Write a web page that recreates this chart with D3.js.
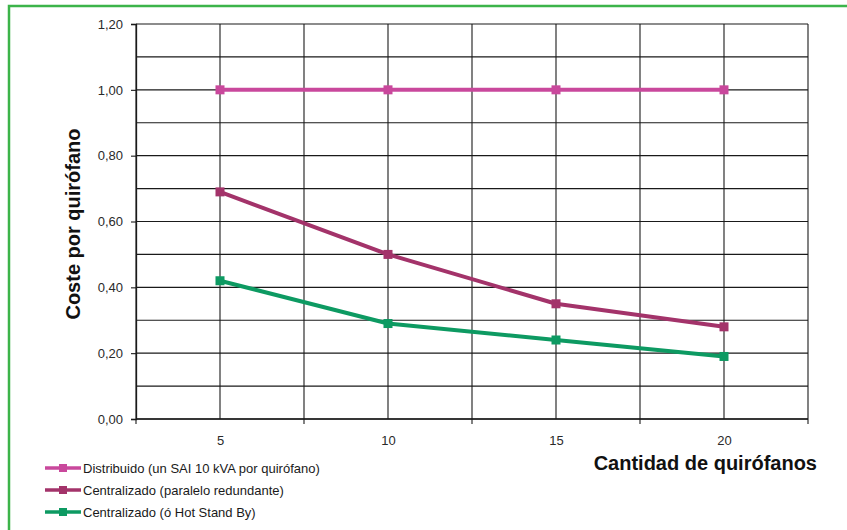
<!DOCTYPE html>
<html>
<head>
<meta charset="utf-8">
<script src="https://cdn.jsdelivr.net/npm/d3@7"></script>
<style>
  html, body { margin: 0; padding: 0; background: #fff; }
  svg { display: block; font-family: "Liberation Sans", Arial, sans-serif; }
</style>
</head>
<body>
<svg id="chart" width="847" height="530"></svg>
<script>
const categories = [5, 10, 15, 20];
const distribuido = [1.00, 1.00, 1.00, 1.00];
const paralelo = [0.69, 0.50, 0.35, 0.28];
const hotStandBy = [0.42, 0.29, 0.24, 0.19];
const yTickValues = [0, 0.2, 0.4, 0.6, 0.8, 1.0, 1.2];
const yMinorValues = [0.1, 0.3, 0.5, 0.7, 0.9, 1.1];
const seriesNames = [
  "Distribuido (un SAI 10 kVA por quirófano)",
  "Centralizado (paralelo redundante)",
  "Centralizado (ó Hot Stand By)"
];
const seriesColors = ["#c9489c", "#a3336a", "#0d9a62"];
const seriesValues = [distribuido, paralelo, hotStandBy];

const svg = d3.select("#chart");
const plot = { left: 136, right: 808, top: 24, bottom: 419 };

// border
svg.append("rect")
  .attr("x", 9).attr("y", 6)
  .attr("width", 860).attr("height", 540)
  .attr("fill", "none").attr("stroke", "#3cb44a").attr("stroke-width", 2.5);

const x = d3.scaleLinear().domain([2.5, 22.5]).range([plot.left, plot.right]);
const y = d3.scaleLinear().domain([0, 1.2]).range([plot.bottom, plot.top]);

const gridColor = "#1a1a1a";

// horizontal grid (major + minor)
const allY = yTickValues.concat(yMinorValues);
svg.append("g").selectAll("line").data(allY).join("line")
  .attr("x1", plot.left).attr("x2", plot.right)
  .attr("y1", d => y(d)).attr("y2", d => y(d))
  .attr("stroke", gridColor).attr("stroke-width", 1.1);

// vertical grid every 2.5
const vLines = d3.range(2.5, 22.51, 2.5);
svg.append("g").selectAll("line").data(vLines).join("line")
  .attr("x1", d => x(d)).attr("x2", d => x(d))
  .attr("y1", plot.top).attr("y2", plot.bottom)
  .attr("stroke", gridColor).attr("stroke-width", 1.1);

// y axis
const yAxis = d3.axisLeft(y).tickValues(yTickValues)
  .tickFormat(d => d3.format(".2f")(d).replace(".", ","))
  .tickSize(5).tickPadding(8);
const gy = svg.append("g").attr("transform", `translate(${plot.left},0)`).call(yAxis);
gy.select(".domain").attr("stroke", gridColor).attr("stroke-width", 1.3);
gy.selectAll(".tick line").attr("stroke", gridColor).attr("stroke-width", 1.1);
gy.selectAll("text").attr("font-size", 13).attr("fill", "#2a2a2a")
  .attr("font-family", "'Liberation Sans', Arial, sans-serif");

// x axis: labels at categories, tick marks between categories
const xAxis = d3.axisBottom(x).tickValues(categories).tickSize(0).tickPadding(17);
const gx = svg.append("g").attr("transform", `translate(0,${plot.bottom})`).call(xAxis);
gx.select(".domain").remove();
gx.selectAll("text").attr("font-size", 13).attr("fill", "#2a2a2a")
  .attr("font-family", "'Liberation Sans', Arial, sans-serif");
svg.append("line")
  .attr("x1", plot.left).attr("x2", plot.right)
  .attr("y1", plot.bottom).attr("y2", plot.bottom)
  .attr("stroke", gridColor).attr("stroke-width", 1.3);
const betweenTicks = [2.5, 7.5, 12.5, 17.5, 22.5];
svg.append("g").selectAll("line").data(betweenTicks).join("line")
  .attr("x1", d => x(d)).attr("x2", d => x(d))
  .attr("y1", plot.bottom).attr("y2", plot.bottom + 5)
  .attr("stroke", gridColor).attr("stroke-width", 1.1);

// series
const line = d3.line().x((d, i) => x(categories[i])).y(d => y(d));
seriesValues.forEach((vals, si) => {
  const g = svg.append("g");
  g.append("path").datum(vals).attr("d", line)
    .attr("fill", "none").attr("stroke", seriesColors[si])
    .attr("stroke-width", 4).attr("stroke-linejoin", "round");
  g.selectAll("rect").data(vals).join("rect")
    .attr("x", (d, i) => x(categories[i]) - 4.5)
    .attr("y", d => y(d) - 4.5)
    .attr("width", 9).attr("height", 9)
    .attr("fill", seriesColors[si]);
});

// axis titles
svg.append("text")
  .attr("transform", `translate(80,224) rotate(-90)`)
  .attr("text-anchor", "middle")
  .attr("font-size", 20).attr("font-weight", "bold").attr("fill", "#111")
  .text("Coste por quirófano");

svg.append("text")
  .attr("x", 817).attr("y", 470)
  .attr("text-anchor", "end")
  .attr("font-size", 20).attr("font-weight", "bold").attr("fill", "#111")
  .text("Cantidad de quirófanos");

// legend
const legendY = [468, 490, 512];
seriesNames.forEach((name, i) => {
  const g = svg.append("g").attr("transform", `translate(0,${legendY[i]})`);
  g.append("line").attr("x1", 45).attr("x2", 81).attr("y1", 0).attr("y2", 0)
    .attr("stroke", seriesColors[i]).attr("stroke-width", 3.5);
  g.append("rect").attr("x", 59).attr("y", -4).attr("width", 8).attr("height", 8)
    .attr("fill", seriesColors[i]);
  g.append("text").attr("x", 83).attr("y", 4.5)
    .attr("font-size", 13).attr("fill", "#1a1a1a")
    .text(name);
});
</script>
</body>
</html>
